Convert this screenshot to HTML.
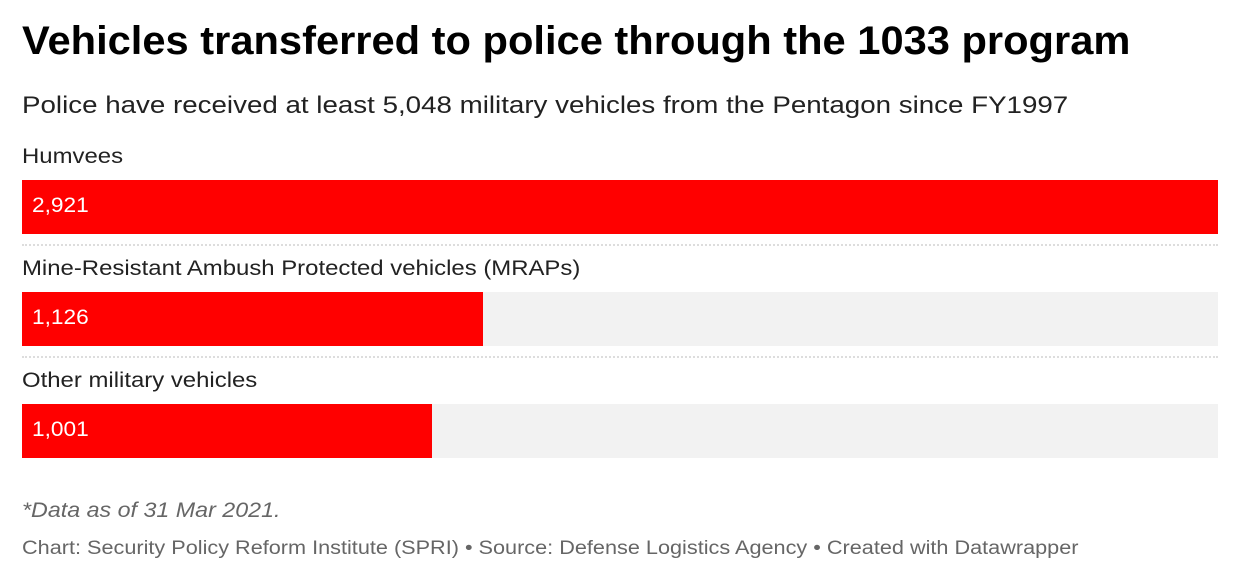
<!DOCTYPE html>
<html><head><meta charset="utf-8"><style>
body{margin:0;width:1240px;height:582px;background:#fff;font-family:"Liberation Sans",sans-serif;position:relative;overflow:hidden}
.t{position:absolute;left:22px;white-space:nowrap;transform-origin:left top}
</style></head><body>
<div class="t" style="top:19px;font-size:40px;font-weight:bold;color:#000;transform:scaleX(1.041)">Vehicles transferred to police through the 1033 program</div>
<div class="t" style="top:92px;font-size:24px;color:#222;transform:scaleX(1.155)">Police have received at least 5,048 military vehicles from the Pentagon since FY1997</div>
<div id="chart"></div>
<div class="t" style="top:499px;font-size:21px;font-style:italic;color:#666;transform:scaleX(1.107)">*Data as of 31 Mar 2021.</div>
<div class="t" style="top:538px;font-size:19px;color:#666;transform:scaleX(1.14)">Chart: Security Policy Reform Institute (SPRI) • Source: Defense Logistics Agency • Created with Datawrapper</div>
<script>
const categories=["Humvees","Mine-Resistant Ambush Protected vehicles (MRAPs)","Other military vehicles"];
const values=[2921,1126,1001];
const labels=["2,921","1,126","1,001"];
const maxV=Math.max(...values);
const x0=22,W=1196;
function xs(v){return v/maxV*W;}
const c=document.getElementById('chart');
categories.forEach((cat,i)=>{
  const top=145+i*112;
  const l=document.createElement('div');
  l.className='t';l.style.cssText=`top:${top}px;font-size:21px;color:#222;transform:scaleX(1.139)`;
  l.textContent=cat;
  
  
  c.appendChild(l);
  const bg=document.createElement('div');
  bg.style.cssText=`position:absolute;left:${x0}px;top:${top+35}px;width:${W}px;height:54px;background:#f2f2f2`;
  
  
  c.appendChild(bg);
  const b=document.createElement('div');
  b.style.cssText=`position:absolute;left:${x0}px;top:${top+35}px;width:${xs(values[i])}px;height:54px;background:#ff0000`;
  
  
  c.appendChild(b);
  const v=document.createElement('div');
  v.className='t';v.style.cssText=`left:32px;top:${top+49}px;font-size:21px;color:#fff;transform:scaleX(1.08)`;
  v.textContent=labels[i];
  
  
  c.appendChild(v);
  if(i<categories.length-1){
    const s=document.createElement('div');
    s.style.cssText=`position:absolute;left:${x0}px;top:${top+99}px;width:${W}px;border-top:2px dotted #ddd`;
    
    
    c.appendChild(s);
  }
});
</script>
</body></html>
